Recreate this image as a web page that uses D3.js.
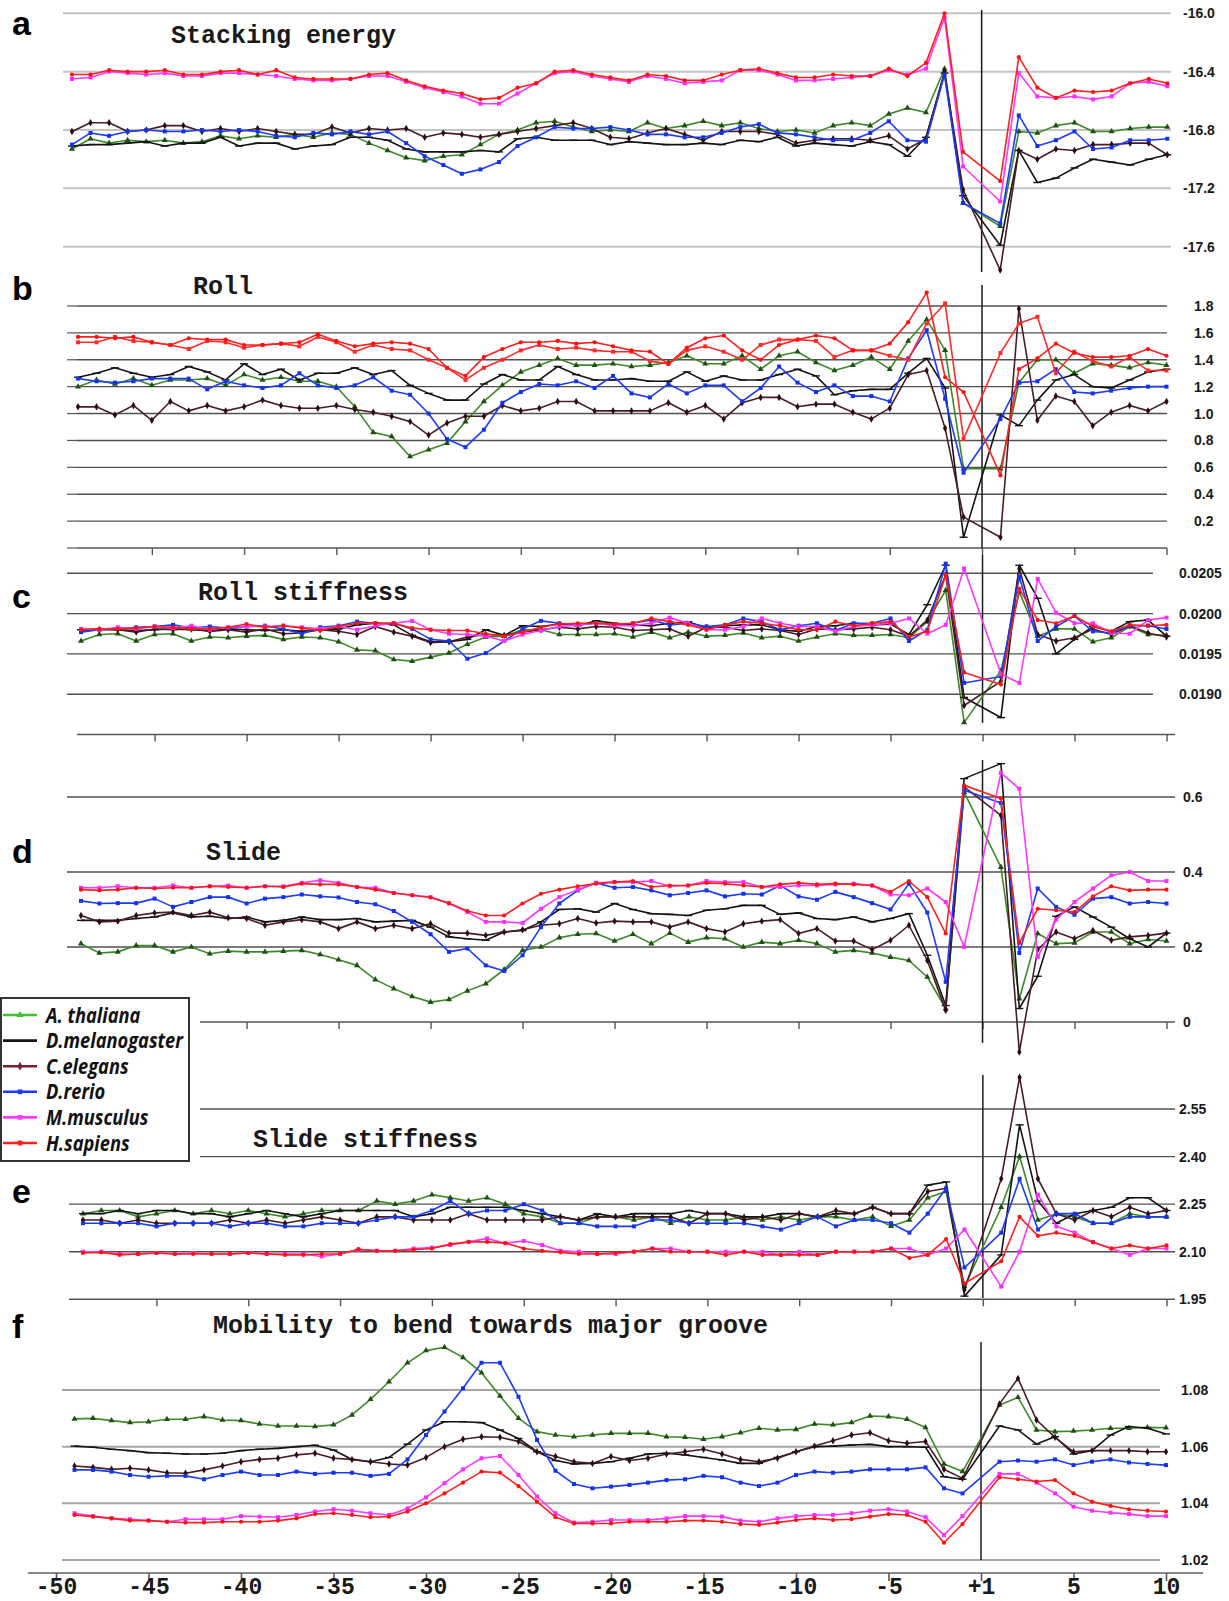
<!DOCTYPE html>
<html>
<head>
<meta charset="utf-8">
<script src="https://cdn.jsdelivr.net/npm/d3@7"></script>
<style>
body { margin: 0; background: #fff; }
</style>
</head>
<body>
<div class="chart"></div>
<script>
// x categories: upstream -49..-1, downstream +1..+10 (no 0)
const positions = [-49,-48,-47,-46,-45,-44,-43,-42,-41,-40,-39,-38,-37,-36,-35,-34,-33,-32,-31,-30,
  -29,-28,-27,-26,-25,-24,-23,-22,-21,-20,-19,-18,-17,-16,-15,-14,-13,-12,-11,-10,-9,-8,-7,-6,-5,-4,-3,-2,-1,
  1,2,3,4,5,6,7,8,9,10];

const species = ["A. thaliana", "D.melanogaster", "C.elegans", "D.rerio", "M.musculus", "H.sapiens"];
const keys = ["at", "dm", "ce", "dr", "mm", "hs"];

const bottomTicks = [-50,-45,-40,-35,-30,-25,-20,-15,-10,-5,0,5,10];
const bottomLabels = ["-50","-45","-40","-35","-30","-25","-20","-15","-10","-5","+1","5","10"];
const axisTicks = [-45,-40,-35,-30,-25,-20,-15,-10,-5,0,5,10];

// a: Stacking energy
const a_grid = [-16.0, -16.4, -16.8, -17.2, -17.6];
const a_at = [-16.93,-16.86,-16.89,-16.87,-16.88,-16.87,-16.89,-16.88,-16.84,-16.86,-16.84,-16.85,-16.83,-16.85,-16.82,-16.83,-16.89,-16.94,-16.99,-17.01,-16.98,-16.97,-16.90,-16.83,-16.80,-16.75,-16.74,-16.78,-16.81,-16.80,
  -16.81,-16.75,-16.79,-16.77,-16.74,-16.77,-16.75,-16.79,-16.81,-16.80,-16.82,-16.77,-16.75,-16.77,-16.69,-16.65,-16.68,-16.38,-17.30,
  -17.46,-16.81,-16.82,-16.77,-16.75,-16.81,-16.81,-16.79,-16.78,-16.78];
const a_dm = [-16.91,-16.90,-16.90,-16.89,-16.88,-16.91,-16.89,-16.89,-16.85,-16.91,-16.89,-16.89,-16.93,-16.91,-16.90,-16.85,-16.85,-16.87,-16.93,-16.95,-16.95,-16.95,-16.94,-16.95,-16.86,-16.85,-16.87,-16.87,-16.87,-16.90,
  -16.88,-16.89,-16.90,-16.90,-16.89,-16.90,-16.87,-16.88,-16.85,-16.91,-16.89,-16.90,-16.91,-16.88,-16.90,-16.98,-16.85,-16.41,-17.25,
  -17.59,-16.94,-17.16,-17.13,-17.06,-17.00,-17.02,-17.04,-17.00,-16.97];
const a_ce = [-16.81,-16.75,-16.75,-16.81,-16.80,-16.77,-16.77,-16.81,-16.79,-16.81,-16.79,-16.81,-16.83,-16.83,-16.78,-16.82,-16.79,-16.80,-16.79,-16.85,-16.82,-16.83,-16.85,-16.83,-16.81,-16.79,-16.77,-16.75,-16.79,-16.85,
  -16.86,-16.82,-16.79,-16.83,-16.87,-16.81,-16.81,-16.81,-16.83,-16.89,-16.87,-16.86,-16.86,-16.87,-16.84,-16.93,-16.86,-16.40,-17.21,
  -17.76,-16.94,-17.00,-16.93,-16.94,-16.90,-16.90,-16.89,-16.89,-16.97];
const a_dr = [-16.90,-16.82,-16.84,-16.81,-16.80,-16.81,-16.81,-16.80,-16.81,-16.80,-16.81,-16.84,-16.85,-16.82,-16.83,-16.81,-16.83,-16.81,-16.89,-16.98,-17.04,-17.10,-17.07,-17.02,-16.91,-16.85,-16.78,-16.79,-16.79,-16.78,
  -16.80,-16.83,-16.83,-16.85,-16.85,-16.82,-16.78,-16.76,-16.82,-16.83,-16.85,-16.87,-16.87,-16.82,-16.74,-16.87,-16.88,-16.42,-17.30,
  -17.44,-16.70,-16.91,-16.87,-16.81,-16.93,-16.92,-16.87,-16.87,-16.86];
const a_mm = [-16.45,-16.44,-16.40,-16.41,-16.42,-16.41,-16.43,-16.43,-16.41,-16.41,-16.42,-16.43,-16.45,-16.46,-16.46,-16.45,-16.43,-16.43,-16.47,-16.51,-16.54,-16.57,-16.62,-16.62,-16.55,-16.48,-16.41,-16.40,-16.43,-16.45,
  -16.47,-16.43,-16.45,-16.48,-16.47,-16.46,-16.39,-16.39,-16.42,-16.46,-16.46,-16.45,-16.44,-16.43,-16.39,-16.42,-16.38,-16.03,-17.05,
  -17.29,-16.41,-16.57,-16.58,-16.57,-16.59,-16.57,-16.48,-16.47,-16.50];
const a_hs = [-16.42,-16.42,-16.39,-16.40,-16.40,-16.39,-16.42,-16.42,-16.40,-16.39,-16.42,-16.39,-16.44,-16.45,-16.45,-16.45,-16.42,-16.41,-16.46,-16.50,-16.53,-16.55,-16.59,-16.58,-16.51,-16.48,-16.40,-16.39,-16.42,-16.44,
  -16.46,-16.42,-16.43,-16.46,-16.46,-16.42,-16.39,-16.38,-16.41,-16.44,-16.44,-16.42,-16.43,-16.43,-16.38,-16.43,-16.34,-16.00,-16.95,
  -17.15,-16.30,-16.51,-16.58,-16.53,-16.54,-16.53,-16.48,-16.45,-16.48];

// b: Roll
const b_grid = [0.2, 0.4, 0.6, 0.8, 1.0, 1.2, 1.4, 1.6, 1.8];
const b_at = [1.20,1.25,1.22,1.26,1.21,1.25,1.25,1.26,1.21,1.29,1.25,1.27,1.24,1.24,1.20,1.05,0.86,0.83,0.68,0.73,0.78,0.94,1.09,1.21,1.31,1.36,1.41,1.36,1.36,1.37,
  1.35,1.36,1.38,1.43,1.37,1.37,1.43,1.33,1.43,1.46,1.38,1.32,1.36,1.42,1.33,1.54,1.70,1.47,0.59,
  0.59,1.23,1.40,1.40,1.30,1.37,1.36,1.34,1.38,1.36];
const b_dm = [1.27,1.30,1.34,1.30,1.27,1.29,1.35,1.31,1.25,1.37,1.29,1.33,1.25,1.30,1.30,1.34,1.29,1.32,1.21,1.15,1.10,1.10,1.22,1.29,1.25,1.25,1.35,1.29,1.25,1.25,
  1.26,1.24,1.24,1.31,1.24,1.28,1.25,1.25,1.29,1.33,1.28,1.14,1.17,1.18,1.18,1.30,1.41,1.19,0.08,
  0.99,0.91,1.10,1.25,1.29,1.20,1.19,1.25,1.31,1.33];
const b_ce = [1.05,1.05,0.99,1.06,0.95,1.09,1.02,1.06,1.02,1.05,1.10,1.06,1.04,1.04,1.06,1.03,1.01,0.98,0.94,0.84,0.93,0.98,0.98,1.06,1.02,1.04,1.09,1.09,1.02,1.02,
  1.02,1.02,1.08,1.01,1.06,0.96,1.08,1.12,1.12,1.05,1.07,1.07,1.01,0.96,1.04,1.29,1.32,0.89,0.23,
  0.08,1.78,0.95,1.13,1.09,0.91,1.01,1.06,1.02,1.09];
const b_dr = [1.26,1.24,1.23,1.24,1.26,1.26,1.26,1.18,1.24,1.21,1.19,1.21,1.30,1.21,1.19,1.21,1.27,1.17,1.14,1.00,0.81,0.75,0.88,1.08,1.16,1.22,1.21,1.24,1.19,1.28,
  1.15,1.12,1.22,1.15,1.21,1.21,1.09,1.19,1.35,1.23,1.16,1.21,1.13,1.13,1.09,1.41,1.62,1.11,0.56,
  0.96,1.23,1.24,1.33,1.16,1.15,1.17,1.19,1.20,1.20];
const b_mm = [1.53,1.53,1.57,1.54,1.53,1.51,1.48,1.54,1.53,1.49,1.51,1.52,1.50,1.57,1.53,1.46,1.51,1.48,1.47,1.40,1.34,1.25,1.34,1.40,1.47,1.51,1.48,1.49,1.47,1.46,
  1.46,1.39,1.37,1.47,1.50,1.46,1.40,1.51,1.55,1.55,1.54,1.42,1.47,1.47,1.43,1.40,1.67,1.82,0.81,
  1.45,1.67,1.72,1.30,1.46,1.39,1.35,1.42,1.32,1.32];
const b_hs = [1.57,1.57,1.56,1.57,1.53,1.51,1.56,1.55,1.55,1.51,1.51,1.52,1.53,1.59,1.54,1.50,1.52,1.53,1.52,1.48,1.34,1.28,1.42,1.48,1.53,1.53,1.54,1.52,1.53,1.50,
  1.47,1.46,1.37,1.49,1.56,1.58,1.47,1.40,1.51,1.55,1.58,1.56,1.47,1.47,1.52,1.68,1.90,1.27,1.16,
  0.54,1.33,1.41,1.52,1.45,1.42,1.42,1.43,1.48,1.43];

// c: Roll stiffness
const c_grid = [0.0190, 0.0195, 0.0200, 0.0205];
const c_at = [0.01966,0.01974,0.01975,0.01966,0.01974,0.01975,0.01966,0.01971,0.01970,0.01972,0.01973,0.01968,0.01971,0.01970,0.01965,0.01955,0.01954,0.01943,0.01941,0.01946,0.01951,0.01962,0.01971,0.01972,0.01980,0.01980,0.01974,0.01974,0.01974,0.01975,
  0.01971,0.01977,0.01970,0.01977,0.01972,0.01973,0.01976,0.01970,0.01972,0.01966,0.01971,0.01975,0.01973,0.01973,0.01974,0.01970,0.01990,0.02029,0.01865,
  0.01929,0.02027,0.01972,0.01981,0.01981,0.01965,0.01970,0.01984,0.01974,0.01973];
const c_dm = [0.01980,0.01981,0.01980,0.01979,0.01980,0.01981,0.01980,0.01979,0.01981,0.01980,0.01979,0.01980,0.01978,0.01980,0.01981,0.01986,0.01988,0.01986,0.01973,0.01965,0.01965,0.01968,0.01980,0.01973,0.01985,0.01984,0.01987,0.01985,0.01991,0.01988,
  0.01986,0.01985,0.01988,0.01990,0.01982,0.01985,0.01986,0.01986,0.01980,0.01978,0.01984,0.01985,0.01988,0.01986,0.01987,0.01974,0.02011,0.02060,0.01896,
  0.01871,0.02060,0.02019,0.01950,0.01968,0.01984,0.01978,0.01990,0.01992,0.01972];
const c_ce = [0.01979,0.01980,0.01980,0.01977,0.01981,0.01980,0.01981,0.01978,0.01980,0.01977,0.01981,0.01975,0.01976,0.01980,0.01978,0.01974,0.01984,0.01977,0.01972,0.01964,0.01965,0.01971,0.01974,0.01973,0.01977,0.01980,0.01983,0.01981,0.01984,0.01983,
  0.01979,0.01980,0.01981,0.01972,0.01983,0.01983,0.01979,0.01981,0.01979,0.01974,0.01981,0.01980,0.01981,0.01983,0.01980,0.01972,0.01992,0.02048,0.01886,
  0.01916,0.02056,0.01974,0.01966,0.01970,0.01981,0.01974,0.01985,0.01976,0.01971];
const c_dr = [0.01977,0.01980,0.01981,0.01983,0.01984,0.01986,0.01982,0.01984,0.01982,0.01984,0.01985,0.01981,0.01975,0.01983,0.01985,0.01990,0.01988,0.01988,0.01981,0.01968,0.01966,0.01944,0.01951,0.01966,0.01981,0.01991,0.01988,0.01986,0.01988,0.01986,
  0.01988,0.01992,0.01986,0.01988,0.01984,0.01986,0.01994,0.01990,0.01980,0.01985,0.01988,0.01979,0.01988,0.01988,0.01994,0.01966,0.01980,0.02062,0.01914,
  0.01922,0.02046,0.01966,0.01984,0.01997,0.01978,0.01976,0.01985,0.01985,0.01981];
const c_mm = [0.01981,0.01980,0.01983,0.01981,0.01984,0.01982,0.01985,0.01980,0.01983,0.01984,0.01984,0.01985,0.01983,0.01981,0.01984,0.01980,0.01985,0.01988,0.01991,0.01980,0.01975,0.01974,0.01972,0.01966,0.01974,0.01979,0.01984,0.01986,0.01988,0.01985,
  0.01985,0.01988,0.01995,0.01988,0.01980,0.01980,0.01984,0.01994,0.01988,0.01984,0.01984,0.01978,0.01984,0.01986,0.01988,0.01994,0.01975,0.01986,0.02056,
  0.01925,0.01914,0.02043,0.02001,0.01988,0.01988,0.01976,0.01975,0.01992,0.01995];
const c_hs = [0.01980,0.01981,0.01981,0.01982,0.01984,0.01983,0.01981,0.01981,0.01983,0.01987,0.01983,0.01985,0.01982,0.01979,0.01984,0.01988,0.01988,0.01988,0.01982,0.01980,0.01979,0.01979,0.01975,0.01972,0.01977,0.01983,0.01987,0.01988,0.01988,0.01987,
  0.01988,0.01994,0.01990,0.01986,0.01980,0.01986,0.01990,0.01988,0.01985,0.01980,0.01980,0.01990,0.01985,0.01988,0.01990,0.01971,0.01978,0.02048,0.01927,
  0.01912,0.02031,0.01992,0.01988,0.01997,0.01984,0.01978,0.01986,0.01985,0.01986];

// d: Slide
const d_grid = [0.2, 0.4, 0.6];
const d_at = [0.209,0.184,0.187,0.204,0.204,0.187,0.20,0.182,0.189,0.187,0.187,0.189,0.191,0.18,0.166,0.151,0.113,0.089,0.068,0.053,0.06,0.083,0.102,0.14,0.191,0.20,0.225,0.234,0.236,0.216,
  0.234,0.209,0.237,0.213,0.225,0.222,0.20,0.213,0.209,0.218,0.209,0.187,0.191,0.184,0.173,0.164,0.12,0.036,0.613,
  0.413,0.062,0.236,0.209,0.211,0.24,0.24,0.209,0.22,0.216];
const d_dm = [0.271,0.271,0.271,0.276,0.28,0.291,0.28,0.282,0.276,0.28,0.267,0.271,0.28,0.273,0.273,0.276,0.267,0.269,0.271,0.253,0.227,0.222,0.218,0.24,0.244,0.267,0.30,0.302,0.293,0.316,
  0.30,0.289,0.287,0.284,0.298,0.302,0.311,0.311,0.287,0.291,0.276,0.273,0.28,0.267,0.276,0.289,0.178,0.044,0.649,
  0.689,0.036,0.122,0.282,0.307,0.28,0.253,0.222,0.20,0.237];
const d_ce = [0.284,0.267,0.269,0.284,0.291,0.293,0.284,0.293,0.278,0.276,0.258,0.267,0.273,0.267,0.249,0.267,0.249,0.258,0.249,0.262,0.237,0.237,0.231,0.24,0.246,0.258,0.262,0.276,0.264,0.269,
  0.267,0.267,0.253,0.267,0.249,0.24,0.262,0.269,0.273,0.236,0.249,0.216,0.216,0.193,0.218,0.258,0.164,0.031,0.627,
  0.551,-0.08,0.193,0.24,0.222,0.244,0.218,0.227,0.231,0.237];
const d_dr = [0.323,0.316,0.317,0.317,0.329,0.307,0.32,0.333,0.333,0.316,0.329,0.333,0.34,0.335,0.332,0.32,0.314,0.296,0.267,0.234,0.187,0.196,0.151,0.136,0.178,0.253,0.316,0.351,0.371,0.358,
  0.36,0.351,0.338,0.344,0.351,0.335,0.342,0.34,0.364,0.335,0.326,0.347,0.333,0.317,0.30,0.369,0.292,0.107,0.618,
  0.584,0.184,0.356,0.307,0.286,0.329,0.333,0.316,0.32,0.316];
const d_mm = [0.358,0.358,0.362,0.358,0.358,0.364,0.358,0.362,0.364,0.358,0.362,0.362,0.371,0.378,0.371,0.36,0.358,0.344,0.338,0.333,0.316,0.293,0.267,0.267,0.264,0.302,0.333,0.353,0.371,0.373,
  0.373,0.376,0.362,0.364,0.376,0.373,0.373,0.36,0.36,0.364,0.364,0.367,0.369,0.364,0.34,0.338,0.356,0.32,0.20,
  0.664,0.622,0.173,0.273,0.32,0.356,0.391,0.40,0.376,0.376];
const d_hs = [0.353,0.351,0.353,0.358,0.356,0.358,0.358,0.362,0.36,0.358,0.362,0.36,0.369,0.367,0.367,0.36,0.353,0.344,0.338,0.332,0.317,0.296,0.284,0.284,0.316,0.342,0.353,0.362,0.369,0.373,
  0.376,0.36,0.364,0.364,0.371,0.369,0.364,0.36,0.367,0.371,0.367,0.369,0.367,0.364,0.347,0.376,0.333,0.236,0.631,
  0.596,0.211,0.302,0.298,0.293,0.335,0.362,0.351,0.353,0.353];

// e: Slide stiffness
const e_grid = [2.10, 2.25, 2.40, 2.55];
const e_at = [2.22,2.23,2.23,2.21,2.22,2.23,2.22,2.23,2.22,2.23,2.22,2.21,2.22,2.23,2.23,2.23,2.26,2.25,2.26,2.28,2.27,2.26,2.27,2.25,2.22,2.21,2.19,2.19,2.21,2.21,
  2.20,2.21,2.19,2.21,2.20,2.20,2.21,2.20,2.21,2.20,2.21,2.21,2.20,2.21,2.18,2.20,2.27,2.29,1.99,
  2.24,2.40,2.20,2.22,2.21,2.19,2.19,2.22,2.21,2.21];
const e_dm = [2.22,2.22,2.23,2.22,2.23,2.23,2.22,2.22,2.21,2.22,2.23,2.22,2.21,2.22,2.23,2.23,2.23,2.23,2.21,2.22,2.24,2.24,2.24,2.24,2.23,2.22,2.21,2.20,2.22,2.21,
  2.22,2.22,2.22,2.23,2.22,2.22,2.21,2.21,2.22,2.22,2.21,2.22,2.22,2.24,2.22,2.22,2.31,2.32,1.96,
  2.09,2.50,2.26,2.19,2.22,2.23,2.24,2.27,2.27,2.23];
const e_ce = [2.20,2.20,2.19,2.20,2.19,2.19,2.19,2.19,2.20,2.19,2.20,2.19,2.20,2.21,2.20,2.19,2.21,2.21,2.20,2.20,2.20,2.22,2.20,2.20,2.20,2.20,2.21,2.20,2.21,2.21,
  2.21,2.21,2.21,2.19,2.22,2.22,2.20,2.21,2.20,2.22,2.21,2.23,2.22,2.24,2.22,2.22,2.29,2.30,1.98,
  2.33,2.65,2.33,2.22,2.20,2.23,2.21,2.24,2.22,2.23];
const e_dr = [2.19,2.19,2.19,2.19,2.18,2.19,2.19,2.19,2.18,2.19,2.19,2.18,2.18,2.19,2.19,2.19,2.20,2.21,2.21,2.23,2.26,2.22,2.23,2.23,2.25,2.23,2.19,2.19,2.18,2.18,
  2.18,2.20,2.20,2.19,2.19,2.19,2.19,2.18,2.17,2.19,2.21,2.18,2.20,2.20,2.19,2.16,2.22,2.30,2.05,
  2.16,2.33,2.17,2.22,2.22,2.19,2.19,2.21,2.21,2.21];
const e_mm = [2.10,2.10,2.093,2.093,2.096,2.093,2.096,2.093,2.093,2.096,2.093,2.093,2.093,2.085,2.093,2.106,2.103,2.103,2.11,2.113,2.121,2.131,2.142,2.127,2.134,2.121,2.103,2.10,2.093,2.093,
  2.10,2.11,2.11,2.10,2.10,2.10,2.10,2.10,2.09,2.10,2.09,2.10,2.10,2.10,2.11,2.11,2.09,2.11,2.17,
  1.99,2.10,2.28,2.18,2.16,2.13,2.11,2.09,2.11,2.11];
const e_hs = [2.096,2.098,2.09,2.093,2.096,2.093,2.093,2.093,2.093,2.096,2.093,2.09,2.09,2.093,2.093,2.108,2.103,2.103,2.106,2.11,2.124,2.131,2.131,2.127,2.11,2.103,2.098,2.093,2.093,2.096,
  2.10,2.11,2.10,2.10,2.10,2.09,2.10,2.09,2.09,2.09,2.09,2.10,2.10,2.10,2.11,2.08,2.09,2.14,2.00,
  2.07,2.21,2.15,2.16,2.15,2.13,2.11,2.12,2.11,2.12];

// f: Mobility to bend towards major groove
const f_grid = [1.02, 1.04, 1.06, 1.08];
const f_at = [1.0698,1.07,1.0692,1.0685,1.0688,1.0697,1.0697,1.0706,1.0694,1.0692,1.068,1.0673,1.0673,1.0671,1.0677,1.0712,1.0767,1.0829,1.0896,1.0939,1.0951,1.0915,1.0861,1.0779,1.07,1.0653,1.0641,1.0635,1.0641,1.0647,
  1.0647,1.0647,1.0635,1.0633,1.0626,1.0635,1.0649,1.0665,1.0659,1.0661,1.068,1.0677,1.0685,1.0708,1.0706,1.0697,1.0668,1.0539,1.0512,
  1.0747,1.0774,1.0659,1.0653,1.0655,1.0659,1.0665,1.0665,1.0668,1.0667];
const f_dm = [1.0602,1.0598,1.0591,1.0586,1.0579,1.0577,1.0574,1.0574,1.0577,1.0586,1.0591,1.0594,1.06,1.0605,1.0588,1.0555,1.0547,1.0562,1.0609,1.0659,1.0688,1.0688,1.0685,1.0659,1.0629,1.0582,1.0551,1.0539,1.0541,1.0547,
  1.0559,1.0574,1.0577,1.0571,1.0562,1.0553,1.0541,1.0541,1.0562,1.0582,1.06,1.0602,1.0606,1.0608,1.06,1.06,1.0598,1.0494,1.0485,
  1.0673,1.0659,1.0609,1.0635,1.0574,1.0586,1.0641,1.0671,1.0665,1.0645];
const f_ce = [1.0532,1.0527,1.052,1.0524,1.0518,1.0508,1.0506,1.0518,1.0532,1.0547,1.0555,1.0559,1.0571,1.0577,1.0559,1.0555,1.0547,1.0539,1.0535,1.0562,1.06,1.0626,1.0635,1.0633,1.0618,1.0582,1.0565,1.0547,1.0541,1.0565,
  1.0551,1.0559,1.0574,1.0582,1.0591,1.0574,1.0555,1.0547,1.0559,1.0582,1.0602,1.0621,1.0641,1.0649,1.0621,1.0612,1.0618,1.052,1.0488,
  1.0751,1.0841,1.0694,1.0633,1.0582,1.0586,1.0586,1.0586,1.0582,1.0582];
const f_dr = [1.0518,1.0518,1.0512,1.05,1.0494,1.0497,1.0497,1.0485,1.05,1.0512,1.05,1.05,1.0512,1.0504,1.0508,1.0508,1.0497,1.0504,1.0555,1.0641,1.0724,1.0806,1.0896,1.0896,1.0776,1.0624,1.0515,1.0468,1.0453,1.0459,
  1.0465,1.0473,1.0482,1.0485,1.0497,1.0492,1.0473,1.0461,1.0473,1.05,1.0512,1.0508,1.0512,1.052,1.052,1.052,1.0527,1.0453,1.0435,
  1.0547,1.0551,1.0547,1.0555,1.0535,1.0547,1.0555,1.0544,1.0539,1.0535];
const f_mm = [1.0365,1.0355,1.0347,1.0344,1.0339,1.0335,1.0344,1.0344,1.0344,1.0355,1.0353,1.0351,1.0359,1.0371,1.0379,1.0374,1.0365,1.0359,1.0382,1.0421,1.0471,1.052,1.0559,1.0567,1.05,1.0424,1.0365,1.0332,1.0335,1.0341,
  1.0341,1.0341,1.0347,1.0355,1.0355,1.0353,1.0339,1.0335,1.0347,1.0355,1.0359,1.0359,1.0365,1.0374,1.0379,1.0371,1.0351,1.0288,1.0355,
  1.0504,1.0504,1.0473,1.0435,1.0388,1.0374,1.0367,1.0362,1.0355,1.0355];
const f_hs = [1.0359,1.0353,1.0347,1.0339,1.0339,1.0335,1.0332,1.0332,1.0335,1.0335,1.0335,1.0339,1.0347,1.0362,1.0365,1.0359,1.0351,1.0353,1.0371,1.04,1.0435,1.0473,1.0512,1.0508,1.0461,1.0406,1.0351,1.0329,1.0329,1.0329,
  1.0335,1.0335,1.0335,1.0339,1.0339,1.0335,1.0327,1.0324,1.0332,1.0341,1.0347,1.0341,1.0344,1.0353,1.0362,1.0359,1.0335,1.0261,1.0327,
  1.0492,1.0485,1.0477,1.0482,1.0435,1.0406,1.0391,1.0379,1.0374,1.0371];

// styling per species
const lineColors = {at: "#3d8a28", dm: "#141414", ce: "#4a1d25", dr: "#1d3bff", mm: "#ff38ff", hs: "#ff2020"};
const markColors = {at: "#1e4f12", dm: "#141414", ce: "#2c0b12", dr: "#1433e6", mm: "#ff2cff", hs: "#ff1010"};
const legendColors = {at: "#3fc02e", dm: "#141414", ce: "#7a1d30", dr: "#1d3bff", mm: "#ff38ff", hs: "#ff2020"};
const markShapes = {at: d3.symbolTriangle, ce: d3.symbolDiamond, dr: d3.symbolSquare, mm: d3.symbolSquare, hs: d3.symbolCircle};

// hyphen instead of the unicode minus, as in the figure
const hy = f => (v => f(v).replace("\u2212", "-"));

const panels = [
  {letter: "a", letterY: 35, title: "Stacking energy", titleX: 171, titleY: 43,
   series: {at: a_at, dm: a_dm, ce: a_ce, dr: a_dr, mm: a_mm, hs: a_hs},
   xRange: [53.4, 1167.3], yDomain: [-17.6, -16.0], yRange: [246.7, 13.3],
   grid: a_grid, fmt: hy(d3.format(".1f")), gridX: [63, 1171], gridColor: "#c4c4c4", gridWidth: 2,
   labelX: 1183, vline: [10, 272]},
  {letter: "b", letterY: 300, title: "Roll", titleX: 193, titleY: 294,
   series: {at: b_at, dm: b_dm, ce: b_ce, dr: b_dr, mm: b_mm, hs: b_hs}, colorOverride: {mm: "#ff2a2a"},
   xRange: [59.6, 1166.5], yDomain: [0, 1.8], yRange: [548, 306],
   grid: b_grid, fmt: d3.format(".1f"), gridX: [77, 1167], gridColor: "#505050", gridWidth: 1.4,
   labelX: 1194, vline: [285, 548], axisAt: 0, axisX: [77, 1167], leftTicks: true},
  {letter: "c", letterY: 608, title: "Roll stiffness", titleX: 198, titleY: 600,
   series: {at: c_at, dm: c_dm, ce: c_ce, dr: c_dr, mm: c_mm, hs: c_hs},
   xRange: [62.6, 1166.5], yDomain: [0.0185, 0.0205], yRange: [734.5, 573.3],
   grid: c_grid, fmt: d3.format(".4f"), gridX: [67, 1153], gridColor: "#505050", gridWidth: 1.4,
   labelX: 1179, vline: [555, 723], axisAt: 0.0185, axisX: [77, 1175]},
  {letter: "d", letterY: 863, title: "Slide", titleX: 206, titleY: 860,
   series: {at: d_at, dm: d_dm, ce: d_ce, dr: d_dr, mm: d_mm, hs: d_hs},
   xRange: [62.6, 1166.5], yDomain: [0, 0.6], yRange: [1022, 797],
   grid: d_grid, fmt: d3.format(".1f"), gridX: [67, 1175], gridColor: "#505050", gridWidth: 1.4,
   labelX: 1183, vline: [760, 1043], axisAt: 0, axisX: [77, 1175], axisLabel: "0"},
  {letter: "e", letterY: 1203, title: "Slide stiffness", titleX: 253, titleY: 1147,
   series: {at: e_at, dm: e_dm, ce: e_ce, dr: e_dr, mm: e_mm, hs: e_hs},
   xRange: [64.6, 1166.5], yDomain: [1.95, 2.55], yRange: [1299.3, 1109],
   grid: e_grid, fmt: d3.format(".2f"), gridX: [69, 1175], gridColor: "#505050", gridWidth: 1.4,
   labelX: 1179, vline: [1075, 1298], axisAt: 1.95, axisX: [69, 1175], axisLabel: "1.95"},
  {letter: "f", letterY: 1338, title: "Mobility to bend towards major groove", titleX: 213, titleY: 1333,
   series: {at: f_at, dm: f_dm, ce: f_ce, dr: f_dr, mm: f_mm, hs: f_hs},
   xRange: [56, 1166], yDomain: [1.02, 1.08], yRange: [1560, 1390],
   grid: f_grid, fmt: d3.format(".2f"), gridX: [62, 1160], gridColor: "#a6a6a6", gridWidth: 2,
   labelX: 1181, vline: [1342, 1560], bottomAxis: true}
];

const svg = d3.select(".chart").append("svg").attr("width", 1229).attr("height", 1601)
  .style("font-family", "'Liberation Sans', Arial, sans-serif");

panels.forEach(pn => {
  const x = d3.scaleLinear().domain([-50, 10]).range(pn.xRange);
  const y = d3.scaleLinear().domain(pn.yDomain).range(pn.yRange);
  const g = svg.append("g");

  g.selectAll("line.grid").data(pn.grid).join("line").attr("class", "grid")
    .attr("x1", pn.gridX[0]).attr("x2", pn.gridX[1])
    .attr("y1", d => y(d)).attr("y2", d => y(d))
    .attr("stroke", pn.gridColor).attr("stroke-width", pn.gridWidth);

  if (pn.leftTicks) {
    g.selectAll("line.lt").data(pn.grid.concat([pn.axisAt])).join("line").attr("class", "lt")
      .attr("x1", pn.gridX[0] - 10).attr("x2", pn.gridX[0])
      .attr("y1", d => y(d)).attr("y2", d => y(d))
      .attr("stroke", "#555").attr("stroke-width", 1.2);
  }

  g.selectAll("text.yl").data(pn.grid).join("text").attr("class", "yl")
    .attr("x", pn.labelX).attr("y", d => y(d)).attr("dy", "0.36em")
    .attr("font-size", 14).attr("font-weight", "bold").attr("fill", "#1a1a1a")
    .text(d => pn.fmt(d));

  if (pn.axisAt !== undefined) {
    g.append("line")
      .attr("x1", pn.axisX[0]).attr("x2", pn.axisX[1])
      .attr("y1", y(pn.axisAt)).attr("y2", y(pn.axisAt))
      .attr("stroke", "#555").attr("stroke-width", 1.4);
    const ax = g.append("g").attr("transform", "translate(0," + y(pn.axisAt) + ")")
      .call(d3.axisBottom(x).tickValues(axisTicks).tickFormat("").tickSize(7).tickSizeOuter(0));
    ax.select(".domain").remove();
    ax.selectAll("line").attr("stroke", "#555").attr("stroke-width", 1.4);
    if (pn.axisLabel) {
      g.append("text").attr("x", pn.labelX).attr("y", y(pn.axisAt)).attr("dy", "0.36em")
        .attr("font-size", 14).attr("font-weight", "bold").attr("fill", "#1a1a1a")
        .text(pn.axisLabel);
    }
  }

  if (pn.bottomAxis) {
    const by = 1573;
    g.append("line").attr("x1", 28).attr("x2", 1203).attr("y1", by).attr("y2", by)
      .attr("stroke", "#888").attr("stroke-width", 2);
    const ax = g.append("g").attr("transform", "translate(0," + by + ")")
      .call(d3.axisBottom(x).tickValues(bottomTicks)
        .tickFormat((d, i) => bottomLabels[i]).tickSize(8).tickSizeOuter(0));
    ax.select(".domain").remove();
    ax.selectAll("line").attr("stroke", "#555").attr("stroke-width", 1.6);
    ax.selectAll("text").attr("y", 21).attr("dy", null)
      .attr("font-family", "'Liberation Mono', 'Courier New', monospace")
      .attr("font-weight", "bold").attr("font-size", 23).attr("fill", "#1a1a1a");
  }

  g.append("line").attr("x1", x(0)).attr("x2", x(0))
    .attr("y1", pn.vline[0]).attr("y2", pn.vline[1])
    .attr("stroke", "#1a1a1a").attr("stroke-width", 1.5);

  const line = d3.line().x(d => x(d[0])).y(d => y(d[1]));
  keys.forEach(k => {
    const pts = positions.map((p, i) => [p, pn.series[k][i]]);
    const col = (pn.colorOverride && pn.colorOverride[k]) || lineColors[k];
    const mcol = (pn.colorOverride && pn.colorOverride[k]) || markColors[k];
    g.append("path").datum(pts).attr("d", line)
      .attr("fill", "none").attr("stroke", col).attr("stroke-width", 1.6)
      .attr("stroke-linejoin", "round");
    if (k === "dm") {
      g.selectAll("line.m-" + k).data(pts).join("line").attr("class", "m-" + k)
        .attr("x1", d => x(d[0]) - 4).attr("x2", d => x(d[0]) + 4)
        .attr("y1", d => y(d[1])).attr("y2", d => y(d[1]))
        .attr("stroke", mcol).attr("stroke-width", 1.4);
    } else {
      g.selectAll("path.m-" + k).data(pts).join("path").attr("class", "m-" + k)
        .attr("transform", d => "translate(" + x(d[0]) + "," + y(d[1]) + ")")
        .attr("d", d3.symbol(markShapes[k], k === "hs" ? 14 : 16))
        .attr("fill", mcol);
    }
  });

  svg.append("text").attr("x", 12).attr("y", pn.letterY)
    .attr("font-size", 34).attr("font-weight", "bold").attr("fill", "#000")
    .text(pn.letter);
  svg.append("text").attr("x", pn.titleX).attr("y", pn.titleY)
    .attr("font-family", "'Liberation Mono', 'Courier New', monospace")
    .attr("font-size", 25).attr("font-weight", "bold").attr("fill", "#1a1a1a")
    .text(pn.title);
});

// legend
const lg = svg.append("g");
lg.append("rect").attr("x", 0).attr("y", 995).attr("width", 200).attr("height", 169).attr("fill", "#fff");
lg.append("rect").attr("x", 1).attr("y", 998).attr("width", 188).attr("height", 163)
  .attr("fill", "#fff").attr("stroke", "#333").attr("stroke-width", 2);
const ly = d3.scaleLinear().domain([0, 5]).range([1015, 1143]);
keys.forEach((k, i) => {
  const yy = ly(i);
  lg.append("line").attr("x1", 3).attr("x2", 37).attr("y1", yy).attr("y2", yy)
    .attr("stroke", legendColors[k]).attr("stroke-width", 2.6);
  if (markShapes[k]) {
    lg.append("path").attr("transform", "translate(20," + yy + ")")
      .attr("d", d3.symbol(markShapes[k], 22)).attr("fill", legendColors[k]);
  }
  lg.append("text").attr("transform", "translate(46," + (yy + 7.5) + ") scale(0.87,1)")
    .attr("font-family", "'Open Sans', sans-serif").attr("font-style", "italic")
    .attr("font-weight", 700).attr("font-size", 21).attr("fill", "#111")
    .text(species[i]);
});
</script>
</body>
</html>
